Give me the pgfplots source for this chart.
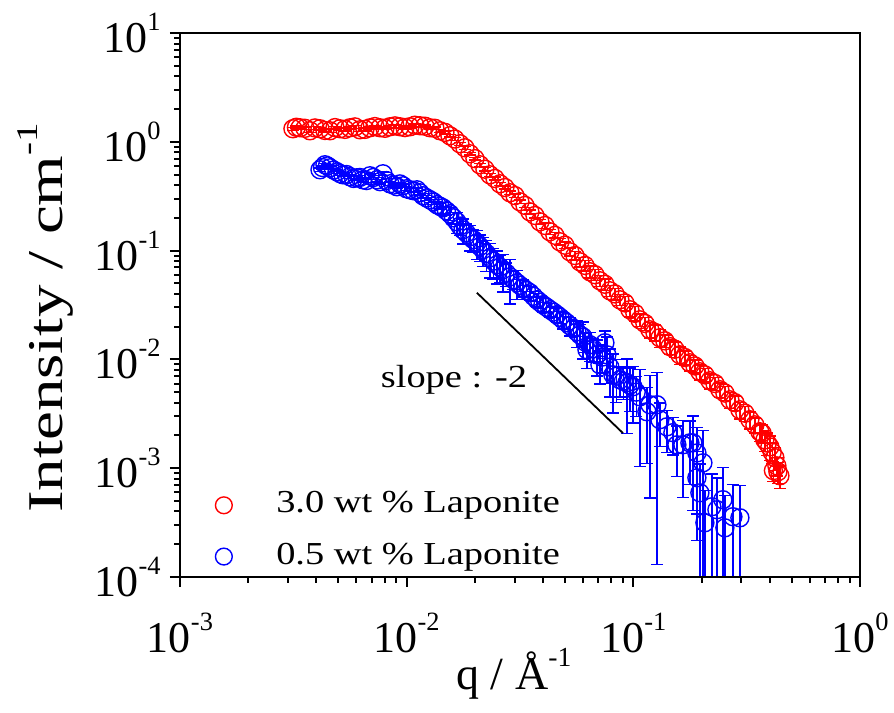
\documentclass[border=0pt]{standalone}
\usepackage{fontspec}
\setmainfont{Liberation Serif}
\newfontfamily\wideA{Liberation Serif}[FakeStretch=1.3]
\newfontfamily\wideB{Liberation Serif}[FakeStretch=1.2]
\usepackage{pgfplots}
\pgfplotsset{compat=1.18}
\usepackage{pgfplotstable}
\newcommand{\sups}[1]{\raisebox{0.5em}{\scalebox{0.6}{#1}}}

\pgfplotstableread{
q I e
0.003150 1.317 0.04
0.003264 1.36 0.04
0.003383 1.345 0.04
0.003559 1.33 0.04
0.003745 1.262 0.04
0.003940 1.34 0.04
0.004146 1.317 0.04
0.004362 1.27 0.04
0.004590 1.262 0.04
0.004828 1.35 0.04
0.005079 1.317 0.04
0.005344 1.30 0.04
0.005622 1.345 0.04
0.005915 1.37 0.04
0.006223 1.289 0.04
0.006548 1.30 0.04
0.006889 1.345 0.04
0.007248 1.38 0.04
0.007625 1.345 0.04
0.008022 1.33 0.04
0.008440 1.374 0.04
0.008880 1.40 0.04
0.009342 1.374 0.04
0.009828 1.35 0.04
0.01034 1.374 0.04
0.01088 1.42 0.04
0.01145 1.403 0.04
0.01204 1.39 0.04
0.01267 1.345 0.04
0.01333 1.33 0.04
0.01403 1.262 0.04
0.01476 1.22 0.04
0.01552 1.135 0.03
0.01633 1.06 0.03
0.01718 0.959 0.03
0.01808 0.88 0.03
0.01902 0.776 0.02
0.02001 0.70 0.02
0.02105 0.615 0.02
0.02215 0.56 0.02
0.02330 0.497 0.015
0.02452 0.46 0.015
0.02580 0.411 0.012
0.02714 0.38 0.012
0.02856 0.340 0.012
0.03005 0.32 0.012
0.03161 0.281 0.01
0.03326 0.26 0.01
0.03499 0.227 0.01
0.03681 0.21 0.01
0.03873 0.184 0.01
0.04075 0.17 0.01
0.04287 0.149 0.008
0.04510 0.138 0.008
0.04745 0.1205 0.008
0.04992 0.112 0.008
0.05252 0.0975 0.008
0.05526 0.090 0.008
0.05814 0.0789 0.008
0.06117 0.073 0.008
0.06436 0.0639 0.008
0.06771 0.060 0.007
0.07124 0.0528 0.006
0.07495 0.049 0.006
0.07885 0.0427 0.005
0.08295 0.040 0.005
0.08727 0.0353 0.004
0.09182 0.033 0.005
0.09660 0.0286 0.004
0.1016 0.0265 0.004
0.1069 0.0231 0.003
0.1125 0.0214 0.003
0.1184 0.0187 0.003
0.1245 0.0177 0.003
0.1310 0.0158 0.003
0.1378 0.0148 0.002
0.1450 0.0131 0.002
0.1525 0.0124 0.002
0.1605 0.01102 0.002
0.1689 0.0104 0.0015
0.1777 0.00930 0.0015
0.1870 0.0087 0.0012
0.1967 0.00769 0.0012
0.2069 0.0072 0.001
0.2177 0.00636 0.001
0.2291 0.0060 0.0008
0.2410 0.00526 0.0008
0.2536 0.0049 0.0007
0.2668 0.00425 0.0007
0.2807 0.0040 0.0006
0.2953 0.00344 0.0006
0.3107 0.0032 0.0005
0.3268 0.00279 0.0005
0.3439 0.0025 0.0004
0.3618 0.00216 0.0004
0.3700 0.0021 0.0004
0.3806 0.00182 0.0004
0.3900 0.0017 0.0004
0.4004 0.00157 0.0004
0.4100 0.0014 0.0003
0.4150 0.00095 0.0002
0.4213 0.00125 0.0003
0.4300 0.00105 0.0002
0.4344 0.000927 0.0002
0.4434 0.000851 0.0002
}\redtab

\pgfplotstableread{
q I e
0.004146 0.553 0.02
0.00425 0.58 0.02
0.004361 0.615 0.02
0.00447 0.60 0.02
0.004590 0.577 0.02
0.00476 0.55 0.02
0.004927 0.530 0.02
0.00508 0.51 0.02
0.005236 0.497 0.02
0.00543 0.50 0.02
0.005622 0.477 0.02
0.00583 0.46 0.02
0.006037 0.467 0.02
0.00622 0.47 0.02
0.006416 0.447 0.02
0.00665 0.44 0.02
0.006889 0.487 0.02
0.00714 0.47 0.02
0.007396 0.447 0.02
0.00763 0.43 0.02
0.007862 0.508 0.02
0.00815 0.44 0.02
0.008440 0.411 0.015
0.00875 0.40 0.015
0.009063 0.386 0.015
0.00934 0.41 0.015
0.009632 0.394 0.015
0.00998 0.37 0.015
0.01034 0.362 0.015
0.01071 0.355 0.015
0.01110 0.362 0.015
0.01144 0.34 0.015
0.01180 0.319 0.015
0.01223 0.305 0.015
0.01267 0.293 0.015
0.01313 0.28 0.015
0.01361 0.264 0.02
0.01403 0.255 0.015
0.01446 0.247 0.03
0.01498 0.232 0.02
0.01552 0.218 0.03
0.01609 0.200 0.025
0.01667 0.184 0.04
0.01719 0.168 0.03
0.01772 0.155 0.04
0.01836 0.145 0.03
0.01902 0.134 0.035
0.01971 0.126 0.03
0.02042 0.118 0.035
0.02105 0.109 0.03
0.02171 0.1017 0.03
0.02249 0.094 0.03
0.02330 0.0859 0.03
0.02414 0.080 0.025
0.02502 0.0741 0.025
0.02579 0.0705 0.02
0.02659 0.0666 0.025
0.02756 0.062 0.015
0.02856 0.0574 0.025
0.02960 0.054 0.01
0.03066 0.0506 0.015
0.03160 0.048 0.006
0.03258 0.0455 0.008
0.03376 0.043 0.005
0.03499 0.0409 0.006
0.03626 0.038 0.004
0.03757 0.0353 0.005
0.03873 0.0335 0.004
0.03993 0.0318 0.005
0.04138 0.0302 0.003
0.04287 0.0286 0.004
0.04442 0.0272 0.003
0.04603 0.0257 0.004
0.04747 0.0244 0.003
0.04892 0.0231 0.004
0.05069 0.0218 0.003
0.05252 0.0204 0.004
0.05443 0.0192 0.003
0.05640 0.0179 0.005
0.05814 0.0168 0.004
0.05994 0.0161 0.006
0.06120 0.0145 0.003
0.06243 0.01226 0.004
0.06436 0.01362 0.004
0.06650 0.0125 0.003
0.06910 0.01102 0.004
0.07124 0.00892 0.003
0.07300 0.0105 0.003
0.07494 0.01421 0.004
0.07648 0.01102 0.005
0.07880 0.0085 0.004
0.08128 0.00722 0.004
0.08420 0.0070 0.003
0.08727 0.00650 0.002
0.09040 0.0063 0.002
0.09371 0.00609 0.004
0.09660 0.0058 0.0025
0.09959 0.00560 0.003
0.1030 0.0050 0.002
0.1069 0.00453 0.0035
0.1148 0.00330 0.0022
0.1184 0.00383 0.0033
0.1271 0.00383 0.0037
0.1310 0.00279 0.0012
0.1407 0.00240 0.0010
0.1495 0.00212 0.0008
0.1557 0.00164 0.0008
0.1655 0.00164 0.0011
0.1777 0.00171 0.0010
0.1832 0.00171 0.0013
0.1908 0.00138 0.0010
0.1908 0.000816 0.0006
0.2028 0.00112 0.0011
0.1967 0.000594 0.0005
0.2069 0.000315 0.00031
0.2222 0.000442 0.00044
0.2338 0.000415 0.0004
0.2484 0.000513 0.0005
0.2535 0.000283 0.00028
0.2750 0.000358 0.00035
0.2953 0.000350 0.000347
}\bluetab

\begin{document}
\begin{tikzpicture}
\useasboundingbox (0,0) rectangle (223.5pt,178.25pt);
\begin{axis}[
  at={(45pt,34pt)}, anchor=south west,
  width=170pt, height=136pt, scale only axis,
  xmode=log, ymode=log,
  xmin=1e-3, xmax=1, ymin=1e-4, ymax=10,
  clip mode=individual,
  axis line style={line width=0.3pt},
  tick align=outside, tick pos=left,
  major tick length=2.5pt, minor tick length=1.4pt,
  every tick/.style={black, line width=0.5pt},
  xtick={0.001,0.01,0.1,1},
  xticklabels={10\sups{-3},10\sups{-2},10\sups{-1},10\sups{0}},
  ytick={0.0001,0.001,0.01,0.1,1,10},
  yticklabels={10\sups{-4},10\sups{-3},10\sups{-2},10\sups{-1},10\sups{0},10\sups{1}},
  minor xtick={0.002,0.003,0.004,0.005,0.006,0.007,0.008,0.009,0.02,0.03,0.04,0.05,0.06,0.07,0.08,0.09,0.2,0.3,0.4,0.5,0.6,0.7,0.8,0.9},
  minor ytick={0.0002,0.0003,0.0004,0.0005,0.0006,0.0007,0.0008,0.0009,0.002,0.003,0.004,0.005,0.006,0.007,0.008,0.009,0.02,0.03,0.04,0.05,0.06,0.07,0.08,0.09,0.2,0.3,0.4,0.5,0.6,0.7,0.8,0.9,2,3,4,5,6,7,8,9},
  tick label style={font=\fontsize{11}{12}\selectfont},
  xticklabel style={yshift=-3pt},
  yticklabel style={xshift=1.2pt},
  every axis x label/.style={at={(axis description cs:0.491,-0.2077)}, anchor=base},
  every axis y label/.style={at={(axis description cs:-0.1735,0.476)}, rotate=90, anchor=base},
  xlabel={\fontsize{11.5}{13}\selectfont q / Å\sups{-1}},
  ylabel={\wideA\fontsize{12.5}{14}\selectfont Intensity / cm\sups{-1}},
  legend style={draw=none, fill=none, at={(0.051,0.173)}, anchor=north west, inner sep=0pt,
    font=\wideB\fontsize{8}{9}\selectfont, row sep=2pt,
    /tikz/every odd column/.append style={column sep=9pt}},
  legend cell align=left,
]
\addlegendimage{only marks, mark=o, red, mark size=2.1pt, mark options={line width=0.35pt}}
\addlegendentry{3.0 wt \% Laponite}
\addlegendimage{only marks, mark=o, blue, mark size=2.1pt, mark options={line width=0.35pt}}
\addlegendentry{0.5 wt \% Laponite}

\addplot[red, only marks, mark=o, mark size=2.25pt, mark options={line width=0.35pt}, forget plot,
  error bars/.cd, y dir=both, y explicit, error bar style={line width=0.35pt},
  error mark options={rotate=90, line width=0.35pt, mark size=1.5pt}]
  table[x=q, y=I, y error=e]{\redtab};
\addplot[blue, only marks, mark=o, mark size=2.25pt, mark options={line width=0.35pt}, forget plot,
  error bars/.cd, y dir=both, y explicit, error bar style={line width=0.35pt},
  error mark options={rotate=90, line width=0.35pt, mark size=1.5pt}]
  table[x=q, y=I, y error=e]{\bluetab};
\addplot[black, line width=0.45pt, forget plot] coordinates {(0.0204,0.041) (0.09,0.0021)};
\node[font=\wideB\fontsize{8}{9}\selectfont] at (axis cs:0.01617,0.0065) {slope : -2};
\draw[line width=0.7pt, black] (rel axis cs:0,1) -- (rel axis cs:0,0) -- (rel axis cs:1,0);
\end{axis}
\end{tikzpicture}
\end{document}
